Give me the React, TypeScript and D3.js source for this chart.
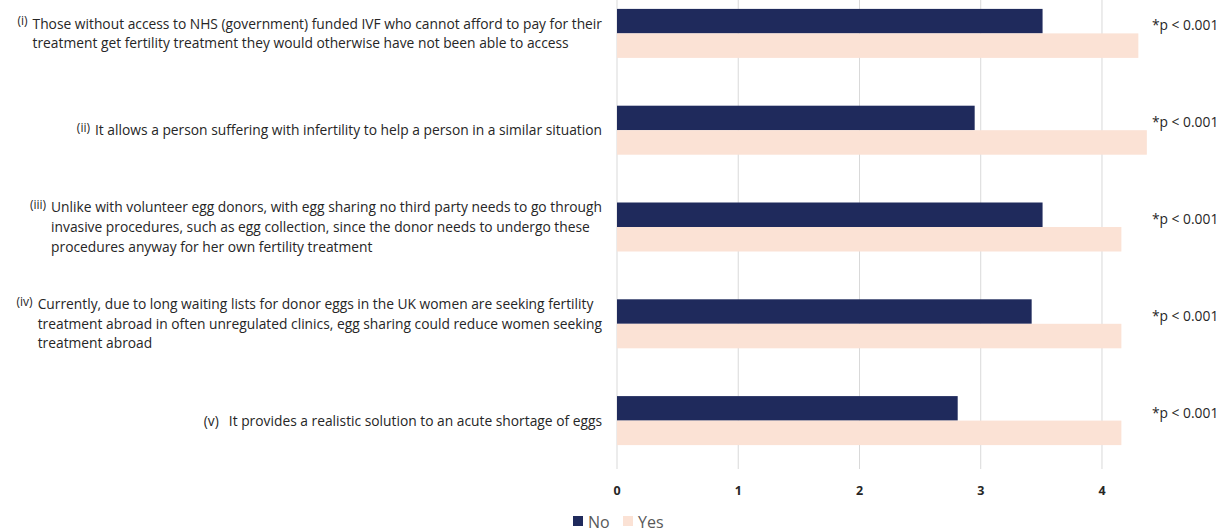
import React, { useEffect, useRef } from "react";
import * as d3 from "d3";

const prefixes = ["(i)", "(ii)", "(iii)", "(iv)", "(v)"];
const prefixSmall = [true, true, true, true, false];
const labelLines: string[][] = [
  [
    "Those without access to NHS (government) funded IVF who cannot afford to pay for their",
    "treatment get fertility treatment they would otherwise have not been able to access",
  ],
  ["It allows a person suffering with infertility to help a person in a similar situation"],
  [
    "Unlike with volunteer egg donors, with egg sharing no third party needs to go through",
    "invasive procedures, such as egg collection, since the donor needs to undergo these",
    "procedures anyway for her own fertility treatment",
  ],
  [
    "Currently, due to long waiting lists for donor eggs in the UK women are seeking fertility",
    "treatment abroad in often unregulated clinics, egg sharing could reduce women seeking",
    "treatment abroad",
  ],
  ["It provides a realistic solution to an acute shortage of eggs"],
];
const noValues = [3.51, 2.95, 3.51, 3.42, 2.81];
const yesValues = [4.3, 4.37, 4.16, 4.16, 4.16];
const pLabels = ["*p < 0.001", "*p < 0.001", "*p < 0.001", "*p < 0.001", "*p < 0.001"];
const seriesNames = ["No", "Yes"];
const xTicks = [0, 1, 2, 3, 4];

const W = 1221;
const H = 531;
const NAVY = "#1f2a5c";
const PEACH = "#fbe2d5";
const FONT = "'Open Sans', 'Noto Sans', sans-serif";
const LABEL_SIZE = 13.8;

export default function App() {
  const ref = useRef<SVGSVGElement>(null);

  useEffect(() => {
    const svg = d3.select(ref.current);
    svg.selectAll("*").remove();

    const x = d3.scaleLinear().domain([0, 4.5]).range([617, 1162.6]);
    const idx = d3.range(prefixes.length).map(String);
    const y = d3.scaleBand().domain(idx).range([-15, 469]).paddingInner(0).paddingOuter(0);
    const barPad = (y.bandwidth() - 49) / 2;
    const sub = d3.scaleBand().domain(seriesNames).range([barPad, y.bandwidth() - barPad]);

    // gridlines
    svg.append("g")
      .selectAll("line")
      .data(xTicks)
      .join("line")
      .attr("x1", (d) => x(d))
      .attr("x2", (d) => x(d))
      .attr("y1", -15)
      .attr("y2", 469)
      .attr("stroke", "#d9d9d9")
      .attr("stroke-width", 1);

    // bars
    const groups = svg.append("g")
      .selectAll("g")
      .data(idx)
      .join("g")
      .attr("transform", (d) => `translate(0,${y(d)})`);
    groups.append("rect")
      .attr("x", x(0))
      .attr("y", sub("No")!)
      .attr("width", (d) => x(noValues[+d]) - x(0))
      .attr("height", sub.bandwidth())
      .attr("fill", NAVY);
    groups.append("rect")
      .attr("x", x(0))
      .attr("y", sub("Yes")!)
      .attr("width", (d) => x(yesValues[+d]) - x(0))
      .attr("height", sub.bandwidth())
      .attr("fill", PEACH);

    // tick labels
    svg.append("g")
      .selectAll("text")
      .data(xTicks)
      .join("text")
      .attr("x", (d) => x(d))
      .attr("y", 495)
      .attr("text-anchor", "middle")
      .attr("font-family", FONT)
      .attr("font-weight", "bold")
      .attr("font-size", 12.5)
      .attr("fill", "#262626")
      .text((d) => String(d));

    // category labels
    const lineH = 19.6;
    const rightEdge = 602;
    idx.forEach((d) => {
      const i = +d;
      const lines = labelLines[i];
      const cy = y(d)! + y.bandwidth() / 2;
      const g = svg.append("g");
      const top = cy - (lines.length * lineH) / 2;
      const texts = g.selectAll("text.l")
        .data(lines)
        .join("text")
        .attr("class", "l")
        .attr("x", 0)
        .attr("y", (_, k) => top + k * lineH + lineH / 2 + 5)
        .attr("font-family", FONT)
        .attr("font-size", LABEL_SIZE)
        .attr("fill", "#262626")
        .text((t) => t);
      let maxW = 0;
      texts.each(function () {
        maxW = Math.max(maxW, (this as SVGTextElement).getComputedTextLength());
      });
      const left = rightEdge - maxW;
      texts.attr("x", left);
      if (prefixSmall[i]) {
        g.append("text")
          .attr("x", left - 5)
          .attr("y", top + lineH / 2 + 1.5)
          .attr("text-anchor", "end")
          .attr("font-family", FONT)
          .attr("font-size", 12)
          .attr("fill", "#262626")
          .text(prefixes[i]);
      } else {
        g.append("text")
          .attr("x", left - 10)
          .attr("y", top + lineH / 2 + 5)
          .attr("text-anchor", "end")
          .attr("font-family", FONT)
          .attr("font-size", LABEL_SIZE)
          .attr("fill", "#262626")
          .text(prefixes[i]);
      }
    });

    // p labels
    svg.append("g")
      .selectAll("text")
      .data(idx)
      .join("text")
      .attr("x", 1152)
      .attr("y", (d) => y(d)! + y.bandwidth() / 2 - 8 + 5)
      .attr("font-family", FONT)
      .attr("font-size", LABEL_SIZE)
      .attr("fill", "#262626")
      .text((d) => pLabels[+d]);

    // legend
    const leg = svg.append("g");
    const legX = [573, 623];
    seriesNames.forEach((name, k) => {
      leg.append("rect")
        .attr("x", legX[k])
        .attr("y", 516)
        .attr("width", 10)
        .attr("height", 10)
        .attr("fill", k === 0 ? NAVY : PEACH);
      leg.append("text")
        .attr("x", legX[k] + 15)
        .attr("y", 527.5)
        .attr("font-family", FONT)
        .attr("font-size", 16)
        .attr("fill", "#595959")
        .text(name);
    });
  }, []);

  return (
    <svg
      ref={ref}
      width={W}
      height={H}
      style={{ position: "absolute", left: 0, top: 0, background: "#fff" }}
    />
  );
}
